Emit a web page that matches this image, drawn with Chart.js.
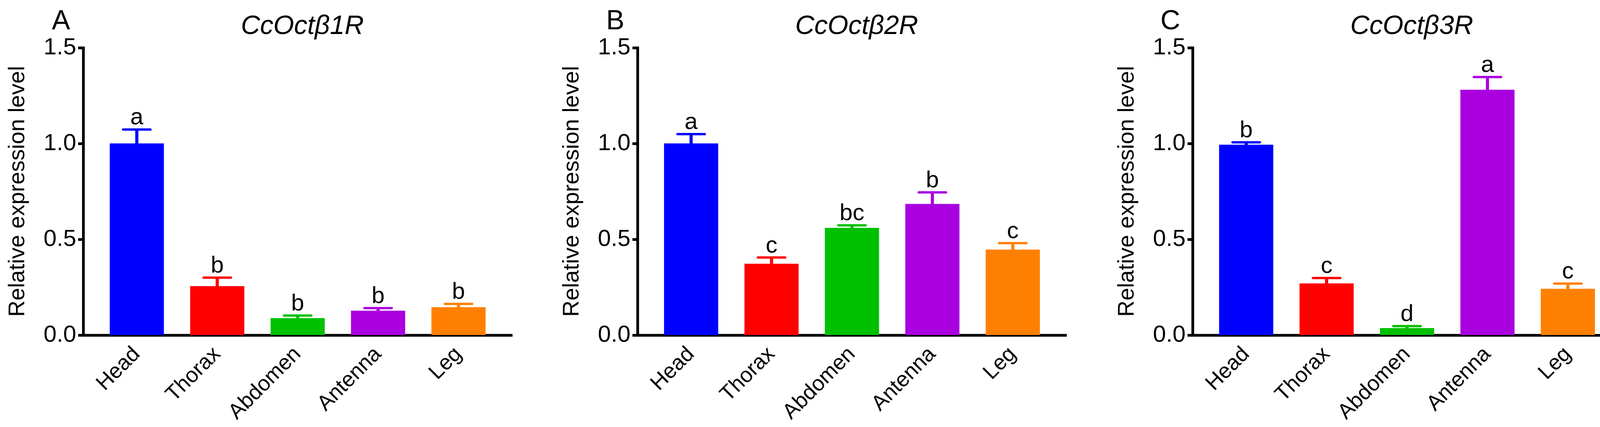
<!DOCTYPE html>
<html>
<head>
<meta charset="utf-8">
<script src="https://cdn.jsdelivr.net/npm/chart.js@4/dist/chart.umd.min.js"></script>
<style>
html,body{margin:0;padding:0;background:#fff;width:4164px;height:1092px;overflow:hidden}
.panel{position:absolute;top:0;width:1324px;height:1092px}
canvas{display:block}
</style>
</head>
<body>
<div class="panel" style="left:0px"><canvas id="cA" width="1324" height="1092"></canvas></div>
<div class="panel" style="left:1419px"><canvas id="cB" width="1324" height="1092"></canvas></div>
<div class="panel" style="left:2840px"><canvas id="cC" width="1324" height="1092"></canvas></div>
<script>
// ---- data ----
const categories = ['Head', 'Thorax', 'Abdomen', 'Antenna', 'Leg'];
const colors = ['#0000FF', '#FF0000', '#00C000', '#AA00E0', '#FF8000'];
const yTicks = [0, 0.5, 1.0, 1.5];
const yAxisTitle = 'Relative expression level';

const panelLetters = ['A', 'B', 'C'];
const geneNames = ['CcOctβ1R', 'CcOctβ2R', 'CcOctβ3R'];

const meanA = [1.000, 0.255, 0.088, 0.127, 0.145];
const errA  = [0.073, 0.045, 0.014, 0.014, 0.018];
const sigA  = ['a', 'b', 'b', 'b', 'b'];

const meanB = [1.000, 0.372, 0.559, 0.684, 0.446];
const errB  = [0.049, 0.033, 0.014, 0.061, 0.034];
const sigB  = ['a', 'c', 'bc', 'b', 'c'];

const meanC = [0.993, 0.269, 0.036, 1.280, 0.241];
const errC  = [0.013, 0.029, 0.011, 0.067, 0.028];
const sigC  = ['b', 'c', 'd', 'a', 'c'];

const FONT = '"Liberation Sans", Arial, Helvetica, sans-serif';

// ---- plugin: error bars, significance letters, panel letter, gene title ----
const annotate = {
  id: 'annotate',
  afterDatasetsDraw(chart, args, opts) {
    const ctx = chart.ctx;
    const x = chart.scales.x, y = chart.scales.y;
    ctx.save();
    opts.means.forEach((m, i) => {
      const cx = x.getPixelForValue(i);
      const yTop = y.getPixelForValue(m);
      const yErr = y.getPixelForValue(m + opts.errs[i]);
      ctx.strokeStyle = colors[i];
      ctx.lineWidth = 8;
      ctx.lineCap = 'butt';
      ctx.beginPath(); ctx.moveTo(cx, yTop); ctx.lineTo(cx, yErr); ctx.stroke();
      ctx.lineWidth = 6;
      ctx.lineCap = 'round';
      ctx.beginPath(); ctx.moveTo(cx - 35, yErr); ctx.lineTo(cx + 35, yErr); ctx.stroke();
      ctx.fillStyle = '#000';
      ctx.font = '60px ' + FONT;
      ctx.textAlign = 'center';
      ctx.textBaseline = 'alphabetic';
      ctx.fillText(opts.sig[i], cx, yErr - 13);
    });
    const a = chart.chartArea;
    ctx.fillStyle = '#000';
    ctx.textAlign = 'center';
    ctx.textBaseline = 'alphabetic';
    ctx.font = '70px ' + FONT;
    ctx.fillText(opts.letter, a.left - 57, 75);
    ctx.font = 'italic 68px ' + FONT;
    ctx.fillText(opts.gene, a.left + 561, 87);
    ctx.restore();
  }
};

function makeChart(id, means, errs, sig, letter, gene) {
  const ctx = document.getElementById(id);
  return new Chart(ctx, {
    type: 'bar',
    data: {
      datasets: [{
        data: means.map((v, i) => ({ x: i, y: v })),
        backgroundColor: colors,
        borderWidth: 0,
        barThickness: 138
      }]
    },
    options: {
      responsive: false,
      devicePixelRatio: 1,
      animation: false,
      layout: { padding: { left: 10, right: 13, top: 122, bottom: 0 } },
      plugins: {
        legend: { display: false },
        tooltip: { enabled: false },
        annotate: { means, errs, sig, letter, gene }
      },
      scales: {
        x: {
          type: 'linear',
          offset: false,
          min: -2 / 3,
          max: 4 + 2 / 3,
          afterBuildTicks: s => { s.ticks = categories.map((c, i) => ({ value: i })); },
          afterFit: s => { s.height = 235; },
          grid: { display: false, drawTicks: false, offset: false },
          border: { display: true, color: '#000', width: 7 },
          ticks: {
            autoSkip: false,
            maxRotation: 45,
            minRotation: 45,
            padding: 17,
            color: '#000',
            font: { family: FONT, size: 55 },
            callback: v => categories[v]
          }
        },
        y: {
          min: 0,
          max: 1.5,
          afterBuildTicks: s => { s.ticks = yTicks.map(v => ({ value: v })); },
          afterFit: s => { s.width = 203; },
          grid: {
            drawOnChartArea: false,
            drawTicks: true,
            tickLength: 13,
            tickWidth: 7,
            tickColor: '#000'
          },
          border: { display: true, color: '#000', width: 7 },
          ticks: {
            padding: 5,
            color: '#000',
            font: { family: FONT, size: 60 },
            callback: v => v.toFixed(1)
          },
          title: {
            display: true,
            text: yAxisTitle,
            color: '#000',
            padding: { top: 1, bottom: 0 },
            font: { family: FONT, size: 58 }
          }
        }
      }
    },
    plugins: [annotate]
  });
}

makeChart('cA', meanA, errA, sigA, panelLetters[0], geneNames[0]);
makeChart('cB', meanB, errB, sigB, panelLetters[1], geneNames[1]);
makeChart('cC', meanC, errC, sigC, panelLetters[2], geneNames[2]);
</script>
</body>
</html>
